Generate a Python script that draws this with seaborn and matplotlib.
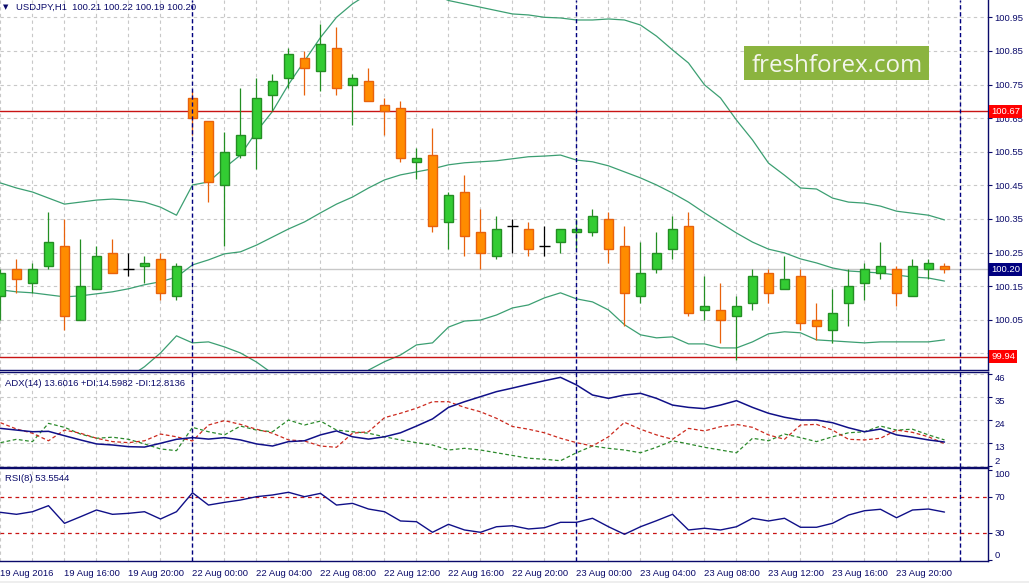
import numpy as np
import matplotlib
matplotlib.use('Agg')
import matplotlib.pyplot as plt
import matplotlib.transforms as mtransforms
from matplotlib.patches import Rectangle
import seaborn as sns

sns.set_style('white')
plt.rcParams['font.family'] = ['Liberation Sans', 'DejaVu Sans']

# USDJPY H1 candles, 19 Aug 12:00 .. 23 Aug 23:00
opens = [100.12, 100.20, 100.16, 100.21, 100.27, 100.05, 100.14, 100.25, 100.20, 100.21,
         100.23, 100.12, 100.71, 100.64, 100.45, 100.54, 100.59, 100.72, 100.77, 100.83,
         100.79, 100.86, 100.75, 100.76, 100.69, 100.68, 100.52, 100.54, 100.34, 100.43,
         100.31, 100.24, 100.33, 100.32, 100.27, 100.28, 100.31, 100.31, 100.35, 100.27,
         100.12, 100.20, 100.26, 100.33, 100.08, 100.08, 100.06, 100.10, 100.19, 100.14,
         100.18, 100.05, 100.02, 100.10, 100.16, 100.19, 100.20, 100.12, 100.20, 100.21]
highs = [100.20, 100.23, 100.22, 100.37, 100.35, 100.29, 100.27, 100.29, 100.25, 100.24,
         100.25, 100.22, 100.73, 100.64, 100.61, 100.74, 100.77, 100.78, 100.86, 100.85,
         100.93, 100.92, 100.78, 100.80, 100.71, 100.70, 100.56, 100.62, 100.43, 100.48,
         100.38, 100.36, 100.35, 100.34, 100.33, 100.32, 100.35, 100.38, 100.37, 100.33,
         100.28, 100.31, 100.36, 100.37, 100.18, 100.16, 100.12, 100.20, 100.20, 100.24,
         100.20, 100.10, 100.14, 100.20, 100.22, 100.28, 100.21, 100.23, 100.23, 100.22]
lows = [100.05, 100.13, 100.13, 100.20, 100.02, 100.05, 100.14, 100.19, 100.18, 100.16,
        100.11, 100.11, 100.60, 100.40, 100.27, 100.53, 100.50, 100.67, 100.74, 100.72,
        100.73, 100.72, 100.63, 100.70, 100.60, 100.52, 100.47, 100.31, 100.26, 100.24,
        100.20, 100.23, 100.25, 100.24, 100.24, 100.25, 100.26, 100.30, 100.22, 100.03,
        100.10, 100.19, 100.23, 100.06, 100.05, 99.98, 99.93, 100.08, 100.10, 100.14,
        100.02, 99.99, 99.98, 100.03, 100.11, 100.17, 100.09, 100.12, 100.17, 100.19]
closes = [100.19, 100.17, 100.20, 100.28, 100.06, 100.15, 100.24, 100.19, 100.20, 100.22,
          100.13, 100.21, 100.65, 100.46, 100.55, 100.60, 100.71, 100.76, 100.84, 100.80,
          100.87, 100.74, 100.77, 100.70, 100.67, 100.53, 100.53, 100.33, 100.42, 100.30,
          100.25, 100.32, 100.33, 100.26, 100.27, 100.32, 100.32, 100.36, 100.26, 100.13,
          100.19, 100.25, 100.32, 100.07, 100.09, 100.05, 100.09, 100.18, 100.13, 100.17,
          100.04, 100.03, 100.07, 100.15, 100.20, 100.21, 100.13, 100.21, 100.22, 100.20]

# Bollinger bands
bb_upper = [100.457, 100.442, 100.430, 100.412, 100.394, 100.400, 100.406, 100.409, 100.406, 100.400,
            100.385, 100.361, 100.451, 100.460, 100.502, 100.540, 100.610, 100.670, 100.750, 100.820,
            100.890, 100.950, 100.990, 101.020, 101.030, 101.040, 101.030, 101.020, 101.000, 100.990,
            100.980, 100.970, 100.960, 100.957, 100.950, 100.948, 100.942, 100.942, 100.945, 100.942,
            100.927, 100.894, 100.853, 100.814, 100.749, 100.710, 100.644, 100.585, 100.516, 100.480,
            100.442, 100.439, 100.412, 100.400, 100.397, 100.388, 100.373, 100.367, 100.361, 100.347]
bb_middle = [100.139, 100.133, 100.130, 100.124, 100.118, 100.121, 100.127, 100.133, 100.142, 100.154,
             100.163, 100.177, 100.213, 100.228, 100.246, 100.252, 100.272, 100.296, 100.320, 100.341,
             100.368, 100.394, 100.415, 100.442, 100.466, 100.481, 100.490, 100.499, 100.511, 100.517,
             100.520, 100.523, 100.529, 100.535, 100.537, 100.540, 100.525, 100.520, 100.508, 100.490,
             100.472, 100.451, 100.427, 100.400, 100.368, 100.338, 100.308, 100.281, 100.260, 100.249,
             100.231, 100.219, 100.204, 100.195, 100.192, 100.189, 100.183, 100.177, 100.174, 100.165]
bb_lower = [99.821, 99.824, 99.830, 99.836, 99.842, 99.842, 99.848, 99.857, 99.878, 99.910,
            99.951, 100.002, 99.981, 99.984, 99.969, 99.951, 99.924, 99.890, 99.880, 99.860,
            99.846, 99.838, 99.850, 99.900, 99.925, 99.945, 99.975, 99.981, 100.028, 100.046,
            100.049, 100.064, 100.085, 100.094, 100.115, 100.130, 100.112, 100.103, 100.079, 100.035,
            100.005, 99.996, 99.999, 99.978, 99.978, 99.966, 99.966, 99.984, 100.008, 100.014,
            100.011, 99.990, 99.987, 99.984, 99.981, 99.984, 99.984, 99.984, 99.984, 99.990]

# ADX(14)
adx = [20.1, 19.3, 18.5, 18.7, 16.6, 14.6, 12.7, 12.2, 11.4, 11.2,
       13.0, 14.9, 15.7, 15.0, 15.7, 14.6, 12.7, 11.7, 13.8, 14.2,
       17.0, 18.9, 16.1, 15.0, 16.1, 18.0, 21.2, 24.6, 30.1, 32.8,
       35.2, 37.6, 39.3, 41.1, 42.8, 44.4, 40.8, 36.0, 34.4, 36.0,
       36.8, 34.4, 31.2, 30.1, 29.5, 31.2, 33.3, 30.1, 27.3, 25.4,
       24.1, 24.1, 22.8, 20.4, 18.5, 19.8, 17.0, 15.9, 14.6, 13.6]
plus_di = [13.3, 14.9, 13.8, 22.5, 20.6, 17.4, 15.4, 15.9, 14.9, 12.7,
           10.3, 9.5, 20.6, 18.5, 17.0, 21.2, 19.3, 18.5, 24.1, 21.7,
           23.6, 19.3, 18.5, 17.8, 16.1, 14.6, 13.3, 12.2, 9.8, 10.6,
           9.8, 8.5, 7.2, 5.9, 5.4, 4.7, 8.5, 11.7, 10.6, 9.8,
           8.5, 11.1, 14.2, 12.7, 11.1, 9.8, 8.5, 15.4, 14.2, 17.4,
           15.7, 13.8, 16.1, 18.0, 18.5, 21.2, 19.3, 19.7, 17.0, 14.6]
minus_di = [22.8, 19.8, 17.8, 14.2, 19.3, 17.8, 15.4, 13.8, 13.3, 14.2,
            17.4, 16.1, 14.1, 21.7, 23.8, 22.0, 19.7, 17.8, 14.6, 14.1,
            11.7, 11.1, 17.8, 18.5, 25.2, 27.3, 29.7, 32.8, 32.8, 30.1,
            28.0, 24.9, 21.0, 19.7, 18.0, 15.4, 13.3, 11.7, 16.1, 23.0,
            19.7, 17.0, 14.9, 20.1, 18.9, 20.9, 22.0, 20.6, 17.0, 14.9,
            21.7, 22.0, 19.3, 14.9, 14.6, 15.4, 19.3, 18.2, 16.1, 12.8]

# RSI(8)
rsi = [53.3, 51.1, 54.0, 60.7, 41.1, 48.4, 55.9, 51.1, 52.2, 54.0,
       45.9, 54.0, 75.1, 61.4, 64.4, 67.0, 70.7, 72.6, 75.6, 70.7,
       74.4, 61.4, 63.3, 57.0, 54.0, 43.7, 42.9, 31.1, 40.0, 33.7,
       31.1, 37.3, 38.4, 34.8, 36.2, 42.2, 42.2, 46.7, 37.3, 28.9,
       37.3, 44.0, 51.1, 33.7, 35.6, 33.7, 37.3, 46.7, 43.7, 46.7,
       36.7, 36.7, 41.1, 50.3, 55.1, 56.7, 47.3, 55.9, 57.0, 53.6]

time_labels = ['19 Aug 2016', '19 Aug 16:00', '19 Aug 20:00', '22 Aug 00:00', '22 Aug 04:00',
               '22 Aug 08:00', '22 Aug 12:00', '22 Aug 16:00', '22 Aug 20:00', '23 Aug 00:00',
               '23 Aug 04:00', '23 Aug 08:00', '23 Aug 12:00', '23 Aug 16:00', '23 Aug 20:00']
day_starts = [12, 36, 60]          # candle index of each new day
price_ticks = [99.95, 100.05, 100.15, 100.25, 100.35, 100.45, 100.55, 100.65, 100.75, 100.85, 100.95]
level_lines = [100.67, 99.94]
last_price = 100.20
adx_ticks = [46, 35, 24, 13, 2]
rsi_ticks = [100, 70, 30, 0]
rsi_levels = [70, 30]

NAVY = '#0a0a6a'
GRID = '#c8c8c8'
FS = 6.8

W, H = 1029, 583
fig = plt.figure(figsize=(W / 100, H / 100), dpi=100)
fig.patch.set_facecolor('white')
# light strip along the bottom edge of the terminal window
fig.patches.append(Rectangle((0, 0), 1, 2.5 / H, transform=fig.transFigure,
                             fc='#eeeeee', ec='none'))


def panel(top, bottom):
    # axes placed by pixel rows; right edge is the price scale line
    return fig.add_axes([0, 1 - bottom / H, 987.7 / W, (bottom - top) / H])


ax = panel(0, 370)
ax_adx = panel(372, 466.5)
ax_rsi = panel(468, 561)

idx = np.arange(len(opens))
o, h, l, c = map(np.array, (opens, highs, lows, closes))
up = c > o
down = c < o
doji = ~(up | down)

for a in (ax, ax_adx, ax_rsi):
    a.set_xlim(-0.03, 61.7)
    a.set_xticks(np.arange(0, 57, 4))
    a.set_xticks(np.arange(0, 61, 2), minor=True)
    a.grid(True, which='both', axis='x', color=GRID, ls=(0, (3, 3)), lw=0.8)
    a.yaxis.tick_right()
    a.tick_params(axis='y', which='both', direction='out', length=3, width=0.8,
                  color=NAVY, labelcolor=NAVY, labelsize=FS, pad=2)
    a.tick_params(axis='x', which='both', length=0, labelbottom=False)
    a.spines['left'].set_visible(False)
    for s in ('top', 'bottom', 'right'):
        a.spines[s].set_color(NAVY)
        a.spines[s].set_linewidth(1.0)
    for k in day_starts:
        a.axvline(k, color='#000080', ls=(0, (3, 2)), lw=1, zorder=6)
ax.spines['top'].set_visible(False)

# ---- main price panel
ax.set_ylim(99.9003, 101.0015)
ax.set_yticks(price_ticks, [''] + [f'{t:.2f}' for t in price_ticks[1:]])
ax.grid(True, axis='y', color=GRID, ls=(0, (3, 3)), lw=0.8)

for series in (bb_upper, bb_middle, bb_lower):
    sns.lineplot(x=idx, y=series, ax=ax, color='#3c9f72', lw=0.9, legend=False, zorder=2)

body_fc = np.where(up, '#33cc33', np.where(down, '#ff8c00', 'black'))
body_ec = np.where(up, '#238e23', np.where(down, '#e8620c', 'black'))
ax.vlines(idx, l, h, colors=body_ec, lw=0.9, zorder=3)
nd = ~doji
ax.bar(idx[nd], np.abs(c - o)[nd], bottom=np.minimum(o, c)[nd], width=0.62,
       color=body_fc[nd], edgecolor=body_ec[nd], lw=1, zorder=4)
ax.hlines(c[doji], idx[doji] - 0.33, idx[doji] + 0.33, colors='black', lw=1, zorder=4)

for lv in level_lines:
    ax.axhline(lv, color='#c81414', lw=1, zorder=2.5)
ax.axhline(last_price, color='#c8c8c8', lw=1, zorder=1.5)

tr = mtransforms.blended_transform_factory(ax.transAxes, ax.transData)
for lv in level_lines:
    ax.text(1.0035, lv, f'{lv:.2f}', transform=tr, ha='left', va='center', fontsize=FS,
            color='white', zorder=10, clip_on=False,
            bbox=dict(boxstyle='square,pad=0.2', fc='#ff0000', ec='none'))
ax.text(1.0035, last_price, f'{last_price:.2f}', transform=tr, ha='left', va='center',
        fontsize=FS, color='white', zorder=10, clip_on=False,
        bbox=dict(boxstyle='square,pad=0.2', fc='#000080', ec='none'))

ax.text(0.003, 0.981, '\u25bc', transform=ax.transAxes, fontsize=5, color=NAVY,
        ha='left', va='center', family='DejaVu Sans')
ax.text(0.0159, 0.979, 'USDJPY,H1  100.21 100.22 100.19 100.20', transform=ax.transAxes,
        fontsize=FS, color=NAVY, ha='left', va='center')

# watermark
ax.add_patch(Rectangle((0.7536, 0.7838), 0.1873, 0.0919, transform=ax.transAxes,
                       fc='#8bb43f', ec='none', zorder=7))
ax.text(0.8472, 0.8062, 'freshforex.com', transform=ax.transAxes, ha='center',
        va='baseline', fontsize=17.4, color='#f4f6ec', family='Open Sans', zorder=8)

# ---- ADX panel
ax_adx.set_ylim(1.95, 46.95)
sns.lineplot(x=idx, y=adx, ax=ax_adx, color='#101088', lw=1.1, legend=False, zorder=4)
sns.lineplot(x=idx, y=plus_di, ax=ax_adx, color='#2c8a2c', lw=0.9, ls=(0, (3, 2)),
             legend=False, zorder=3)
sns.lineplot(x=idx, y=minus_di, ax=ax_adx, color='#cc2a1e', lw=0.9, ls=(0, (3, 2)),
             legend=False, zorder=3)
ax_adx.set_yticks(adx_ticks, [str(t) for t in adx_ticks])
ax_adx.grid(True, axis='y', color=GRID, ls=(0, (3, 3)), lw=0.8)
for lbl in ax_adx.get_yticklabels():
    lbl.set_va('bottom' if lbl.get_text() == '2' else 'top')
ax_adx.text(0.005, 0.88, 'ADX(14) 13.6016 +DI:14.5982 -DI:12.8136', transform=ax_adx.transAxes,
            fontsize=FS, color=NAVY, ha='left', va='center')

# ---- RSI panel
ax_rsi.set_ylim(-0.8, 102.6)
for lv in rsi_levels:
    ax_rsi.axhline(lv, color='#c81414', ls=(0, (3, 3)), lw=0.9, zorder=2)
sns.lineplot(x=idx, y=rsi, ax=ax_rsi, color='#101088', lw=1.0, legend=False, zorder=4)
ax_rsi.set_yticks(rsi_ticks, [str(t) for t in rsi_ticks])
for lbl in ax_rsi.get_yticklabels():
    t = lbl.get_text()
    lbl.set_va('top' if t == '100' else ('bottom' if t == '0' else 'center'))
ax_rsi.text(0.005, 0.89, 'RSI(8) 53.5544', transform=ax_rsi.transAxes,
            fontsize=FS, color=NAVY, ha='left', va='center')
ax_rsi.set_xticks(np.arange(0, 57, 4), time_labels)
ax_rsi.tick_params(axis='x', which='major', length=4.5, width=0.8, color=NAVY,
                   labelbottom=True, labelsize=FS, labelcolor=NAVY, pad=1.5)
for lbl in ax_rsi.get_xticklabels():
    lbl.set_ha('left')

for a in (ax, ax_adx, ax_rsi):
    a.set_xlabel('')
    a.set_ylabel('')

fig.savefig('out.png', dpi=100, facecolor='white')
